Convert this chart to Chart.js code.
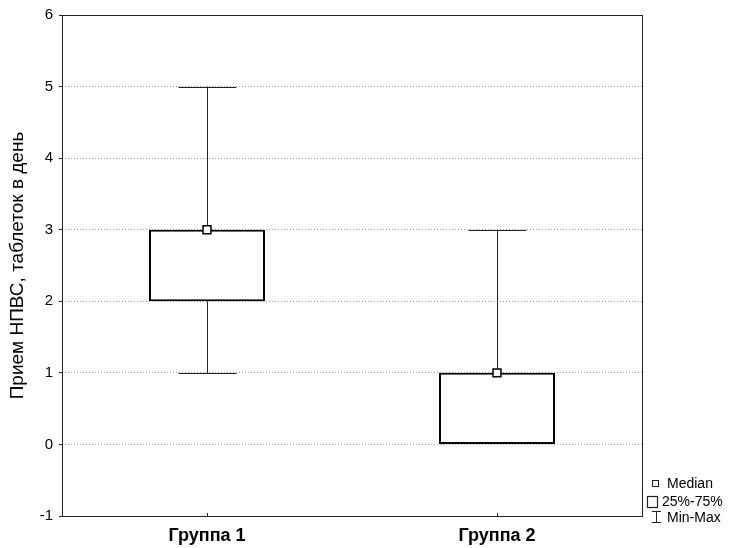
<!DOCTYPE html>
<html>
<head>
<meta charset="utf-8">
<script src="https://cdn.jsdelivr.net/npm/chart.js@4/dist/chart.umd.min.js"></script>
<style>
  html, body { margin: 0; padding: 0; background: #fff; }
  #wrap { width: 735px; height: 548px; }
</style>
</head>
<body>
<div id="wrap"><canvas id="c" width="735" height="548"></canvas></div>
<script>
// Box-and-whisker summary per group
const categories = ['Группа 1', 'Группа 2'];
const medians = [3, 1];
const q1 = [2, 0];
const q3 = [3, 1];
const mins = [1, 0];
const maxs = [5, 3];
const yTicks = [-1, 0, 1, 2, 3, 4, 5, 6];

const FONT = 'Arial, "Liberation Sans", sans-serif';

// Whiskers (min/max lines with caps), plot frame, inner x ticks and legend
const boxExtras = {
  id: 'boxExtras',
  beforeDatasetsDraw(chart) {
    const { ctx, scales: { x, y } } = chart;
    const capHalf = (x.getPixelForValue(1) - x.getPixelForValue(0)) * 0.1;
    ctx.save();
    ctx.strokeStyle = '#222';
    ctx.lineWidth = 1;
    categories.forEach((c, i) => {
      const cx = Math.round(x.getPixelForValue(i)) + 0.5;
      const segs = [[maxs[i], q3[i]], [q1[i], mins[i]]];
      segs.forEach(([a, b]) => {
        if (a === b) return;
        ctx.beginPath();
        ctx.moveTo(cx, y.getPixelForValue(a));
        ctx.lineTo(cx, y.getPixelForValue(b));
        ctx.stroke();
        // cap at the outer end of the whisker
        const py = Math.round(y.getPixelForValue(a === maxs[i] ? a : b)) + 0.5;
        ctx.beginPath();
        ctx.moveTo(cx - capHalf, py);
        ctx.lineTo(cx + capHalf, py);
        ctx.stroke();
      });
    });
    ctx.restore();
  },
  afterDraw(chart) {
    const { ctx, chartArea: a, scales: { x } } = chart;
    ctx.save();
    ctx.strokeStyle = '#222';
    ctx.lineWidth = 1;
    ctx.strokeRect(Math.round(a.left) + 0.5, Math.round(a.top) + 0.5,
                   Math.round(a.right - a.left), Math.round(a.bottom - a.top));
    // small inward tick marks on the category axis
    categories.forEach((c, i) => {
      const cx = Math.round(x.getPixelForValue(i)) + 0.5;
      ctx.beginPath();
      ctx.moveTo(cx, a.bottom);
      ctx.lineTo(cx, a.bottom - 3);
      ctx.stroke();
    });

    // legend
    const lx = Math.round(a.right);
    ctx.font = '14px ' + FONT;
    ctx.textBaseline = 'middle';
    ctx.textAlign = 'left';
    // Median
    ctx.fillStyle = '#fff';
    ctx.fillRect(lx + 10.5, 480.5, 6, 6);
    ctx.strokeRect(lx + 10.5, 480.5, 6, 6);
    ctx.fillStyle = '#000';
    ctx.fillText('Median', lx + 25, 484);
    // 25%-75%
    ctx.lineWidth = 1.2;
    ctx.strokeRect(lx + 5.5, 496.5, 10, 11);
    ctx.fillText('25%-75%', lx + 20, 502);
    // Min-Max
    ctx.lineWidth = 1;
    ctx.beginPath();
    ctx.moveTo(lx + 10, 511.5); ctx.lineTo(lx + 19, 511.5);
    ctx.moveTo(lx + 14.5, 511.5); ctx.lineTo(lx + 14.5, 522.5);
    ctx.moveTo(lx + 10, 522.5); ctx.lineTo(lx + 19, 522.5);
    ctx.stroke();
    ctx.fillText('Min-Max', lx + 25, 518);
    ctx.restore();
  }
};

new Chart(document.getElementById('c'), {
  type: 'bar',
  data: {
    labels: categories,
    datasets: [
      {
        type: 'line',
        label: 'Median',
        data: medians,
        showLine: false,
        pointStyle: 'rect',
        pointRadius: 5.6,
        pointBorderWidth: 1.5,
        pointBackgroundColor: '#fff',
        pointBorderColor: '#000',
        order: 0
      },
      {
        label: '25%-75%',
        data: categories.map((c, i) => [q1[i], q3[i]]),
        backgroundColor: '#fff',
        borderColor: '#000',
        borderWidth: 2,
        borderSkipped: false,
        categoryPercentage: 1,
        barPercentage: 0.4,
        order: 1
      }
    ]
  },
  options: {
    responsive: false,
    animation: false,
    devicePixelRatio: 1,
    layout: { padding: { left: 0, right: 93, top: 14, bottom: 0 } },
    plugins: { legend: { display: false }, tooltip: { enabled: false } },
    scales: {
      x: {
        grid: { display: false, drawTicks: false },
        border: { display: false },
        ticks: {
          padding: 9,
          color: '#000',
          font: { family: FONT, size: 18, weight: 'bold' }
        },
        afterFit(s) { s.height = 32; }
      },
      y: {
        min: -1,
        max: 6,
        afterBuildTicks(s) { s.ticks = yTicks.map(v => ({ value: v })); },
        grid: {
          color: c => (c.tick && (c.tick.value === -1 || c.tick.value === 6)) ? 'rgba(0,0,0,0)' : '#9a9a9a',
          lineWidth: 1,
          tickColor: '#222',
          tickLength: 3
        },
        border: { display: false, dash: [1, 2] },
        ticks: {
          padding: 6,
          color: '#000',
          font: { family: FONT, size: 15 }
        },
        title: {
          display: true,
          text: 'Прием НПВС, таблеток в день',
          color: '#000',
          font: { family: FONT, size: 19 },
          padding: { top: 6, bottom: 0 }
        },
        afterFit(s) { s.width = 62; }
      }
    }
  },
  plugins: [boxExtras]
});
</script>
</body>
</html>
